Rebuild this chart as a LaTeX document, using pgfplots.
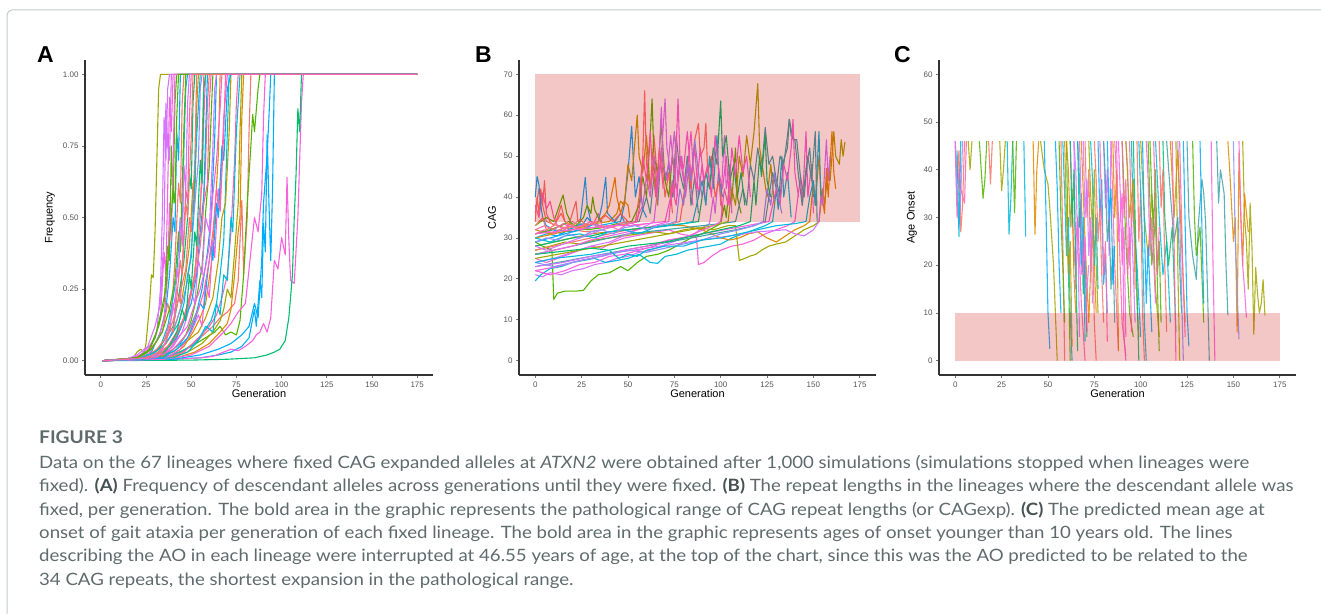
\documentclass[border=0pt]{standalone}
\usepackage{pgfplots}
\pgfplotsset{compat=1.18}
\usepackage{fontspec}
\setmainfont{Liberation Sans}
\newfontfamily\capfont[FakeStretch=1.095]{Lato}
\definecolor{framegray}{HTML}{C3CCCB}
\definecolor{capgray}{HTML}{5E6A6B}
\definecolor{capdark}{HTML}{475253}
\definecolor{tickgray}{HTML}{555555}
\definecolor{bandred}{HTML}{CC0000}
% ggplot hue palette
\definecolor{hr}{HTML}{F8766D}
\definecolor{ho}{HTML}{E18A00}
\definecolor{hy}{HTML}{BE9C00}
\definecolor{hol}{HTML}{A3A500}
\definecolor{hg}{HTML}{53B400}
\definecolor{hgt}{HTML}{00BE70}
\definecolor{ht}{HTML}{3FA3A8}
\definecolor{hc}{HTML}{00BBDA}
\definecolor{hb}{HTML}{00ACFC}
\definecolor{hbl}{HTML}{8B93FF}
\definecolor{hp}{HTML}{D575FE}
\definecolor{hm}{HTML}{F962DD}
\definecolor{hpk}{HTML}{FF65AC}

\pgfplotsset{
  panel/.style={
    scale only axis, height=315pt,
    xmin=-8.75, xmax=183.75,
    axis x line*=bottom, axis y line*=left,
    axis line style={-, line width=1.1pt, black!80},
    tick align=outside, major tick length=3pt,
    tick style={line width=0.8pt, black!55},
    xtick={0,25,...,175},
    tick label style={font=\fontsize{8}{9}\selectfont, color=tickgray},
    /pgf/number format/assume math mode=true,
    xlabel={Generation},
    label style={font=\fontsize{11}{12}\selectfont, color=black},
    xlabel style={at={(axis description cs:0.5,-0.0603)}, anchor=center},
    every axis plot/.append style={line width=1.1pt, line join=round},
  },
}

\begin{document}
\begin{tikzpicture}[x=1pt,y=1pt]
\useasboundingbox (0,0) rectangle (1321,613);
\draw[framegray, line width=1pt, rounded corners=5pt] (7,-20) -- (7,603) -- (1340,603);

% panel letters
\node[anchor=base west, inner sep=0, font=\bfseries\fontsize{23}{25}\selectfont] at (37,550) {A};
\node[anchor=base west, inner sep=0, font=\bfseries\fontsize{23}{25}\selectfont] at (475,550) {B};
\node[anchor=base west, inner sep=0, font=\bfseries\fontsize{23}{25}\selectfont] at (894,550) {C};

% ---------------- A: frequency ----------------
\begin{axis}[panel, at={(85pt,238pt)}, anchor=south west, width=348pt,
  ymin=-0.05, ymax=1.05, ytick={0,0.25,0.5,0.75,1},
  yticklabel style={/pgf/number format/fixed, /pgf/number format/fixed zerofill, /pgf/number format/precision=2},
  ylabel={Frequency}, ylabel style={at={(axis description cs:-0.1006,0.5)}, anchor=center}]
\addplot[hol] coordinates {(1,0)(10,0.002)(18,0.01)(20,0.03)(22,0.04)(24,0.03)(25,0.06)(27,0.2)(28,0.3)(29,0.29)(30,0.45)(31,0.7)(32,0.95)(33,1)(175,1)};
\addplot[hp] coordinates {(1,0)(15,0.005)(22,0.02)(28,0.06)(31,0.1)(33,0.25)(34,0.5)(35,0.85)(36,0.7)(37,0.95)(38,1)(175,1)};
\addplot[hm] coordinates {(1,0)(18,0.01)(25,0.03)(30,0.08)(33,0.15)(35,0.38)(36,0.3)(37,0.6)(38,0.92)(39,0.8)(40,1)(175,1)};
\addplot[hg] coordinates {(1,0)(20,0.01)(27,0.04)(32,0.12)(35,0.2)(37,0.4)(38,0.35)(39,0.75)(40,0.55)(41,0.9)(42,1)(175,1)};
\addplot[hb] coordinates {(1,0)(22,0.01)(28,0.03)(33,0.1)(36,0.18)(38,0.3)(40,0.5)(41,0.45)(42,0.8)(43,0.7)(44,1)(175,1)};
\addplot[hr] coordinates {(1,0)(16,0.005)(24,0.02)(30,0.06)(34,0.1)(37,0.2)(39,0.15)(41,0.35)(43,0.62)(44,0.55)(45,0.9)(46,1)(175,1)};
\addplot[hc] coordinates {(1,0)(20,0.005)(28,0.02)(33,0.05)(37,0.12)(40,0.22)(42,0.3)(44,0.5)(45,0.42)(46,0.75)(47,0.95)(48,1)(175,1)};
\addplot[hpk] coordinates {(1,0)(22,0.01)(30,0.03)(35,0.07)(39,0.15)(42,0.25)(44,0.2)(46,0.45)(47,0.6)(48,0.55)(49,0.85)(50,1)(175,1)};
\addplot[hgt] coordinates {(1,0)(25,0.01)(32,0.04)(37,0.09)(40,0.12)(43,0.22)(46,0.35)(48,0.5)(49,0.65)(50,0.6)(51,0.9)(52,1)(175,1)};
\addplot[hy] coordinates {(1,0)(20,0.005)(30,0.02)(36,0.06)(40,0.1)(44,0.18)(47,0.3)(49,0.4)(51,0.62)(52,0.55)(53,0.88)(54,1)(175,1)};
\addplot[hbl] coordinates {(1,0)(24,0.01)(32,0.03)(38,0.08)(42,0.14)(45,0.2)(48,0.28)(50,0.38)(52,0.55)(54,0.7)(55,0.95)(56,1)(175,1)};
\addplot[hm] coordinates {(1,0)(25,0.005)(33,0.02)(39,0.06)(43,0.1)(47,0.16)(50,0.25)(52,0.3)(54,0.48)(56,0.62)(57,0.85)(58,1)(175,1)};
\addplot[hr] coordinates {(1,0)(27,0.01)(35,0.03)(41,0.07)(45,0.13)(48,0.2)(51,0.26)(54,0.42)(56,0.45)(58,0.7)(59,0.9)(60,1)(175,1)};
\addplot[hg] coordinates {(1,0)(28,0.005)(36,0.02)(42,0.05)(47,0.09)(50,0.14)(53,0.22)(56,0.33)(58,0.52)(60,0.68)(61,0.85)(62,1)(175,1)};
\addplot[hb] coordinates {(1,0)(30,0.01)(38,0.03)(44,0.06)(49,0.11)(53,0.17)(56,0.25)(59,0.38)(61,0.5)(63,0.78)(64,1)(175,1)};
\addplot[ho] coordinates {(1,0)(30,0.005)(40,0.02)(46,0.05)(51,0.1)(55,0.15)(58,0.2)(61,0.33)(63,0.5)(65,0.72)(66,1)(175,1)};
\addplot[hr] coordinates {(1,0)(35,0.01)(45,0.03)(55,0.08)(62,0.12)(66,0.15)(70,0.17)(74,0.2)(76,0.28)(78,0.56)(79,0.3)(81,0.5)(82,0.8)(83,1)(175,1)};
\addplot[hg] coordinates {(1,0)(30,0.005)(40,0.02)(50,0.05)(58,0.08)(63,0.1)(66,0.12)(69,0.09)(72,0.1)(75,0.09)(77,0.14)(79,0.3)(81,0.55)(83,0.75)(84,0.86)(85,0.8)(87,0.95)(88,1)(175,1)};
\addplot[hb] coordinates {(1,0)(40,0.005)(55,0.01)(65,0.02)(72,0.03)(78,0.05)(82,0.08)(85,0.18)(86,0.12)(88,0.28)(89,0.22)(90,0.48)(91,0.38)(92,0.79)(93,0.55)(94,0.35)(95,0.6)(96,1)(175,1)};
\addplot[hm] coordinates {(1,0)(40,0.005)(55,0.01)(62,0.015)(68,0.03)(72,0.04)(76,0.035)(80,0.05)(84,0.07)(86,0.09)(88,0.1)(90,0.13)(92,0.1)(94,0.15)(96,0.35)(98,0.32)(100,0.43)(102,0.37)(103,0.64)(104,0.42)(105,0.28)(107,0.27)(109,0.5)(111,0.9)(112,1)(175,1)};
\addplot[hgt] coordinates {(1,0)(50,0.002)(70,0.005)(85,0.01)(92,0.02)(96,0.03)(99,0.04)(102,0.07)(104,0.15)(106,0.3)(107,0.5)(108,0.65)(109,0.88)(110,0.8)(111,1)(175,1)};
\addplot[hp] coordinates {(1,0)(26,0.005)(34,0.02)(40,0.05)(45,0.1)(48,0.16)(50,0.24)(52,0.2)(54,0.35)(56,0.3)(58,0.5)(60,0.45)(62,0.75)(63,0.95)(64,1)(175,1)};
\addplot[hc] coordinates {(1,0)(34,0.01)(44,0.03)(52,0.06)(57,0.1)(61,0.14)(64,0.2)(66,0.3)(68,0.42)(69,0.6)(70,0.8)(71,1)(175,1)};
\addplot[hpk] coordinates {(1,0)(36,0.01)(46,0.03)(54,0.08)(60,0.12)(64,0.16)(67,0.22)(70,0.3)(72,0.45)(74,0.7)(75,0.9)(76,1)(175,1)};
\addplot[hol] coordinates {(1,0)(38,0.01)(48,0.03)(56,0.06)(62,0.1)(66,0.14)(68,0.18)(70,0.25)(72,0.22)(74,0.38)(76,0.55)(77,0.8)(78,1)(175,1)};
\addplot[hp] coordinates {(1,0)(14,0.005)(20,0.02)(26,0.05)(30,0.12)(33,0.2)(35,0.45)(36,0.9)(37,0.75)(38,0.7)(39,1)(175,1)};
\addplot[hm] coordinates {(1,0)(18,0.005)(26,0.02)(32,0.08)(35,0.15)(37,0.3)(38,0.55)(39,0.42)(40,0.7)(41,1)(175,1)};
\addplot[hg] coordinates {(1,0)(20,0.01)(28,0.04)(34,0.1)(38,0.18)(41,0.28)(43,0.45)(44,0.38)(45,0.6)(46,0.82)(47,1)(175,1)};
\addplot[hr] coordinates {(1,0)(24,0.01)(31,0.04)(36,0.08)(40,0.14)(44,0.24)(47,0.32)(49,0.5)(50,0.45)(52,0.7)(53,1)(175,1)};
\addplot[hb] coordinates {(1,0)(28,0.01)(36,0.04)(42,0.08)(46,0.14)(50,0.2)(53,0.3)(55,0.45)(57,0.58)(58,0.8)(59,1)(175,1)};
\addplot[hm] coordinates {(1,0)(30,0.01)(38,0.04)(44,0.09)(48,0.12)(52,0.2)(55,0.25)(58,0.33)(60,0.4)(62,0.58)(64,0.7)(66,0.88)(67,1)(175,1)};
\addplot[hy] coordinates {(1,0)(32,0.01)(40,0.03)(48,0.07)(54,0.1)(58,0.15)(62,0.22)(65,0.35)(67,0.5)(69,0.55)(71,0.8)(72,1)(175,1)};
\addplot[hc] coordinates {(1,0)(20,0.005)(30,0.03)(36,0.06)(40,0.1)(43,0.13)(46,0.2)(48,0.3)(50,0.36)(51,0.5)(53,0.78)(55,1)(175,1)};
\addplot[hpk] coordinates {(1,0)(22,0.005)(30,0.02)(37,0.05)(42,0.1)(46,0.15)(49,0.22)(52,0.28)(55,0.4)(57,0.55)(59,0.62)(60,0.9)(61,1)(175,1)};
\addplot[ho] coordinates {(1,0)(42,0.01)(52,0.03)(60,0.06)(66,0.1)(70,0.13)(72,0.18)(74,0.3)(76,0.45)(77,0.5)(78,0.85)(79,1)(175,1)};
\addplot[hb] coordinates {(1,0)(40,0.005)(55,0.02)(65,0.04)(72,0.06)(78,0.09)(82,0.12)(85,0.2)(87,0.15)(89,0.35)(90,0.55)(92,0.72)(93,0.85)(94,1)(175,1)};
\addplot[hm] coordinates {(1,0)(35,0.005)(50,0.02)(60,0.05)(68,0.1)(72,0.13)(76,0.17)(80,0.2)(83,0.38)(85,0.5)(87,0.45)(89,0.58)(90,0.85)(91,1)(175,1)};
\addplot[hg] coordinates {(1,0)(20,0.01)(26,0.03)(30,0.08)(33,0.16)(36,0.25)(38,0.42)(40,0.6)(41,0.55)(42,0.85)(43,1)(175,1)};
\addplot[hr] coordinates {(1,0)(26,0.01)(34,0.03)(40,0.07)(44,0.12)(48,0.18)(51,0.26)(53,0.36)(55,0.5)(56,0.74)(57,1)(175,1)};
\addplot[hp] coordinates {(1,0)(28,0.01)(34,0.04)(38,0.1)(40,0.2)(41,0.15)(42,0.32)(43,0.28)(44,0.5)(45,0.4)(46,0.68)(47,0.6)(48,0.9)(49,1)(175,1)};
\addplot[hgt] coordinates {(1,0)(32,0.01)(38,0.05)(42,0.1)(45,0.18)(47,0.14)(49,0.3)(50,0.25)(52,0.45)(53,0.4)(55,0.7)(56,0.62)(57,0.95)(58,1)(175,1)};
\addplot[hm] coordinates {(1,0)(36,0.01)(44,0.04)(50,0.1)(54,0.16)(56,0.12)(58,0.28)(60,0.22)(62,0.42)(63,0.36)(65,0.6)(66,0.55)(68,0.85)(70,1)(175,1)};
\addplot[hc] coordinates {(1,0)(40,0.01)(48,0.03)(54,0.07)(58,0.12)(62,0.1)(64,0.2)(66,0.16)(68,0.3)(70,0.28)(72,0.5)(73,0.45)(75,0.8)(77,1)(175,1)};
\addplot[hr] coordinates {(1,0)(26,0.01)(32,0.03)(36,0.06)(38,0.12)(40,0.1)(42,0.22)(44,0.35)(45,0.3)(47,0.55)(48,0.5)(50,0.78)(51,1)(175,1)};
\addplot[hb] coordinates {(1,0)(34,0.01)(42,0.04)(48,0.08)(52,0.14)(55,0.2)(57,0.18)(59,0.3)(61,0.4)(62,0.35)(64,0.55)(65,0.5)(67,0.75)(68,0.7)(70,0.95)(72,1)(175,1)};
\addplot[hpk] coordinates {(1,0)(30,0.01)(40,0.04)(46,0.08)(50,0.12)(54,0.18)(57,0.24)(60,0.35)(62,0.45)(64,0.6)(66,0.52)(68,0.8)(69,1)(175,1)};
\end{axis}

% ---------------- B: CAG ----------------
\begin{axis}[panel, at={(519pt,238pt)}, anchor=south west, width=357pt,
  ymin=-3.5, ymax=73.5, ytick={0,10,...,70},
  ylabel={CAG}, ylabel style={at={(axis description cs:-0.0756,0.5)}, anchor=center}]
\addplot[hg] coordinates {(0,29)(4,28)(9,27)(10,15)(12,16.5)(16,17)(22,17)(26,17.2)(30,19.5)(34,21)(40,21.5)(46,23)(50,22)(55,24)(60,25.5)(66,26)(72,27)(78,28.5)(84,30)(90,31)(96,32.5)(100,33.5)(102,38)(103,35)(105,45)(106,39)(108,52)(109,40)(111,36)};
\addplot[hp] coordinates {(0,21)(4,20.5)(8,21.5)(14,21)(20,22)(26,22.5)(32,23.5)(38,24)(44,25)(50,25.5)(56,26.5)(62,27)(68,28)(74,29)(80,30)(86,31)(90,32.5)(94,33.5)(96,40)(97,36)(99,47)(100,38)(102,55)(103,42)(105,48)(106,36)};
\addplot[hc] coordinates {(0,19.5)(3,21)(8,22.5)(14,23)(20,24)(26,24.5)(32,25)(38,24)(44,24.5)(50,25)(56,26)(62,24)(66,23.8)(70,25.5)(76,26)(82,27)(88,27.5)(94,28)(100,28.5)(106,30)(112,31)(118,32)(124,33)(128,34)(130,42)(131,37)(133,50)(134,40)(136,46)(138,35)};
\addplot[hm] coordinates {(0,25)(6,24)(12,25)(18,26)(24,27)(30,28)(36,27.5)(42,29)(48,30)(54,30.5)(60,31)(66,31.5)(72,32)(78,31)(84,30.5)(87,30)(88,23.5)(91,24)(95,25.5)(100,27)(106,28)(112,28.5)(118,29.5)(124,31)(130,32)(136,33)(140,34)(143,45)(144,38)(146,56)(147,40)(149,48)(150,36)};
\addplot[hol] coordinates {(0,27)(8,28)(16,29)(24,28.5)(32,29.5)(40,30)(48,30.5)(56,31)(64,31.5)(72,31)(80,32)(88,32.5)(96,32)(104,33)(108,33)(110,24.5)(113,25)(116,25.6)(119,26)(122,27)(126,28)(130,28.5)(135,29)(140,30.5)(145,32)(150,33)(153,34)(155,42)(156,38)(158,47)(159,44)(161,56)(162,50)(164,48)(165,54)(166,50)(167,53.5)};
\addplot[ho] coordinates {(0,28)(10,29)(20,30)(30,31)(40,31.5)(50,32)(60,32.5)(70,33)(80,33)(90,32)(100,30)(105,29.5)(110,30)(115,31)(120,31.5)(125,30)(130,29)(135,30.5)(140,32)(145,33)(148,34)(150,44)(151,38)(153,50)(154,42)(156,36)(157,47)(158,40)(160,56)(161,46)(162,42)};
\addplot[ht] coordinates {(0,26)(10,27)(20,28)(30,29)(40,30)(50,31)(60,31.5)(70,32)(80,32.5)(90,33)(100,33.5)(108,34)(112,42)(114,38)(116,48)(118,44)(120,52)(122,46)(124,57)(126,48)(128,50)(130,44)(132,40)(134,49)(136,52)(137,59)(139,54)(141,54)(143,45)(145,40)(147,50)(149,44)(151,56)(152,34)};
\addplot[ht] coordinates {(0,31)(10,32)(20,31.5)(30,32.5)(40,33)(50,33.5)(56,34)(60,40)(62,36)(64,45)(66,38)(68,52)(70,44)(72,48)(74,40)(76,55)(78,46)(80,42)(82,50)(84,38)(86,45)(88,36)};
\addplot[hb] coordinates {(0,30)(6,31)(12,30.5)(18,32)(24,33)(27,44.8)(28,38)(30,34)(34,33)(40,33.5)(46,34)(48,38)(50,46)(52,57.3)(53,48)(54,40)(56,45)(58,37)(60,35)};
\addplot[hy] coordinates {(0,32)(8,31)(16,32.5)(24,33)(32,33.5)(40,34)(44,36)(46,39)(48,38)(50,48)(52,44)(55,60)(56,50)(58,46)(60,55)(62,42)(64,48)(66,38)};
\addplot[hr] coordinates {(0,36)(2,42)(4,38)(6,34)(12,33)(20,32)(28,31.5)(36,32)(44,33)(50,33.5)(54,34)(56,40)(58,50)(59,66)(60,48)(62,42)(64,55)(66,44)(68,50)(70,40)(72,46)(74,36)};
\addplot[hg] coordinates {(0,33)(6,35)(10,34)(15,40.5)(17,36)(20,33)(28,32)(36,32.5)(44,33.5)(52,34)(56,38)(58,45)(60,40)(62,55)(63,64)(64,50)(66,46)(68,58)(70,44)(72,40)(74,50)(76,42)};
\addplot[hp] coordinates {(0,24)(10,25)(20,26.5)(30,28)(40,29)(50,31)(60,33)(64,34)(66,42)(68,50)(70,64)(71,52)(73,46)(75,56)(77,44)(79,50)(81,40)(83,48)(85,38)};
\addplot[hm] coordinates {(0,26)(10,27)(20,28)(30,29.5)(40,30.5)(50,31.5)(60,32.5)(68,33.5)(72,34)(74,44)(75,40)(77,64)(78,50)(80,47)(82,56)(84,45)(86,52)(88,40)(90,48)(92,38)};
\addplot[hr] coordinates {(0,27)(10,28)(20,29)(30,30)(40,31)(50,32)(60,32.5)(70,33)(78,34)(80,40)(82,48)(84,42)(86,54)(88,58)(89,50)(91,52)(92,58)(93,46)(95,50)(97,40)(99,44)(101,36)};
\addplot[hgt] coordinates {(0,28)(10,29)(20,30)(30,30.5)(40,31.5)(50,32)(60,32.5)(70,33)(80,33.5)(88,34)(90,40)(92,46)(94,42)(96,52)(98,48)(100,63.5)(101,50)(103,55)(105,44)(107,48)(109,40)(111,46)(113,38)};
\addplot[hol] coordinates {(0,25)(12,26)(24,27)(36,28)(48,29)(60,30)(72,31)(84,32)(96,33)(104,34)(106,42)(108,38)(110,50)(112,45)(114,55)(116,48)(118,56)(120,67.7)(121,52)(123,46)(125,40)(127,48)(129,38)};
\addplot[ht] coordinates {(0,23)(12,24)(24,25)(36,26)(48,27)(60,28)(72,29)(84,30)(96,31)(108,32)(118,33)(124,34)(126,40)(128,46)(130,42)(132,50)(134,48)(136,55)(137,59)(138,55)(140,54)(142,45)(144,38)(146,47)(148,52)(150,40)};
\addplot[hm] coordinates {(0,22)(12,23)(24,24.5)(36,25.5)(48,27)(60,28)(72,29.5)(84,30.5)(96,31.5)(108,32.5)(120,33.5)(126,34)(130,42)(132,38)(134,48)(136,44)(138,52)(139,59)(140,46)(142,40)};
\addplot[hp] coordinates {(0,23)(15,24)(30,25.5)(45,26.5)(60,27.5)(75,28.5)(90,29.5)(105,30.5)(120,31.5)(135,32)(140,31)(145,30.5)(150,32)(153,34)(154,40)(155,38)(157,54)(158,44)(159,50)};
\addplot[hr] coordinates {(0,34)(1,40)(2,36)(3,42)(4,38)(5,44)(6,36)(8,34)(10,33)(12,35)(14,38)(16,34)(18,33)(22,39)(23,34)(26,33)(30,34)};
\addplot[hpk] coordinates {(0,38)(2,35)(4,41)(6,37)(8,39)(10,35)(12,33)(16,32)(20,34)(24,33)(28,32.5)(32,34)(34,36)(36,33)};
\addplot[hb] coordinates {(0,40)(1,45)(2,43)(3,38)(4,35)(6,33)(10,32)(14,31)(18,32)(22,33)(26,33.5)(28,35)(30,34)};
\addplot[hb] coordinates {(0,29)(8,30)(16,31)(24,32)(30,33)(34,34)(36,38)(38,44.8)(39,36)(41,35)(43,34)(46,36)(48,34)};
\addplot[ho] coordinates {(0,30)(10,31)(20,32)(28,33)(34,34)(38,36)(40,38)(43,44.8)(44,40)(46,36)(48,39)(50,38)(51,35)};
\addplot[hg] coordinates {(0,31)(8,32)(14,33)(18,34)(22,33)(26,35)(28,38)(30,36)(31,40)(32,37)(34,35)(36,34)};
\addplot[hpk] coordinates {(0,32)(5,33)(10,32)(15,33.5)(20,32.5)(25,33)(30,34)(35,33)(40,32.5)(45,33.5)(50,34)(55,33)(60,33.5)};
\addplot[hc] coordinates {(0,30)(8,29)(16,30.5)(24,31)(32,30)(40,31.5)(48,32)(56,31)(64,32.5)(72,33)(80,33.5)(85,34)(88,40)(90,44)(92,38)(94,50)(96,42)(98,55)(99,45)(101,40)};
\addplot[hr] coordinates {(0,33)(4,35)(6,32)(10,33)(14,36)(16,34)(20,33)(24,34.5)(28,33)(34,34)(38,35.5)(42,34)(46,36)(50,34)};
\addplot[hp] coordinates {(0,28)(6,27)(12,28)(18,29)(24,30)(30,31)(36,32)(42,33)(48,33)(54,34)(58,38)(60,45)(62,40)(64,50)(66,42)(68,62)(69,48)(71,44)(73,55)(75,46)(77,40)};
\addplot[hbl] coordinates {(0,24)(10,23)(20,24)(30,25)(40,26)(50,27)(60,26.5)(70,27.5)(80,28.5)(90,29.5)(100,31)(110,32)(118,33)(123,34)(125,42)(127,38)(129,46)(131,40)(133,36)};
\addplot[hm] coordinates {(0,22)(8,21)(16,22)(24,23.5)(32,24)(40,25.5)(48,26)(56,27)(64,28)(72,29.5)(80,30)(88,31.5)(96,33)(100,34)(102,42)(104,38)(106,52)(108,45)(110,55)(112,46)(114,50)(116,40)};
\addplot[hgt] coordinates {(0,26)(10,26.5)(20,27)(30,27.5)(40,27)(50,28)(60,28.5)(70,29)(80,30)(90,31)(100,32)(110,33)(116,34)(118,44)(119,38)(121,50)(122,45)(124,55)(125,44)(127,40)};
\addplot[hc] coordinates {(0,24)(10,25)(20,25.5)(30,26)(40,27)(45,25)(50,26)(55,25.5)(60,27)(70,28)(80,28)(90,29.5)(100,30)(110,31)(120,32)(130,33)(140,33.5)(146,34)(148,40)(150,44)(151,38)(153,56)(154,40)};
\addplot[hm] coordinates {(0,31)(10,31.5)(20,32)(30,32.5)(40,33)(50,33)(60,33.5)(70,34)(72,38)(74,42)(76,38)(78,50)(80,44)(82,46)(84,56)(85,48)(87,42)(89,52)(91,44)(93,48)(95,40)(97,55)(99,46)(101,42)(103,50)(105,38)};
\addplot[hpk] coordinates {(0,31)(5,32)(10,31)(15,32.5)(20,33)(25,32)(30,33.5)(35,32.5)(40,33)(45,32)(50,33.5)(55,34)(57,40)(58,50)(60,44)(62,56)(63,48)(65,40)(67,52)(69,42)};
\addplot[hbl] coordinates {(0,29)(6,30)(12,29.5)(18,31)(24,30)(30,31.5)(36,32)(42,31)(48,32.5)(54,33)(60,32)(66,33)(72,33.5)(76,34)(78,42)(80,38)(82,48)(84,44)(86,54)(88,46)(90,40)};
% pathological range
\addplot[draw=none, fill=bandred, fill opacity=0.22] coordinates {(0,34)(175,34)(175,70)(0,70)} -- cycle;
\end{axis}

% ---------------- C: age at onset ----------------
\begin{axis}[panel, at={(939pt,238pt)}, anchor=south west, width=357pt,
  ymin=-3, ymax=63, ytick={0,10,...,60}, unbounded coords=jump,
  every axis plot/.append style={opacity=0.85},
  ylabel={Age Onset}, ylabel style={at={(axis description cs:-0.0756,0.5)}, anchor=center}]
\addplot[hr] coordinates {(0,46)(1,38)(2,44)(3,27)(4,33)(5,46)(6,nan)(18,46)(19,37)(20,46)(21,nan)(57,46)(58,25)(59,0)};
\addplot[hpk] coordinates {(0,45)(1,30)(2,40)(3,36)(5,33)(6,46)(7,nan)(84,46)(86,20)(88,2)};
\addplot[hp] coordinates {(0,46)(1,33)(2,28)(3,35)(4,46)(5,nan)(64,46)(65,15)(66,30)(67,5)};
\addplot[hc] coordinates {(1,44)(2,26)(3,46)(4,nan)(28,46)(29,26.5)(30,34)(31,46)(32,nan)(37,46)(38,26)};
\addplot[hol] coordinates {(7,46)(8,40)(9,46)(10,nan)(24,46)(25,35.6)(26,40)(27,46)(28,nan)(46,46)(48,40)(50,37)(51,32)(53,20)(55,0)};
\addplot[hg] coordinates {(13,46)(14,40)(15,34)(16,38)(17,46)(18,nan)(31,46)(32,31)(33,46)(34,nan)(60,46)(61,20)(62,0)};
\addplot[ho] coordinates {(42,46)(43,26.5)(44,40)(45,46)(46,nan)(68,46)(70,25)(72,8)(74,30)(76,10)};
\addplot[hb] coordinates {(48,46)(49,30)(50,10)(51,2.5)(52,nan)(95,46)(96,30)(98,20)(100,5)};
\addplot[hol] coordinates {(155,46)(156,30)(157,25)(158,15)(159,33)(160,24)(161,5.5)(162,19.5)(163,14)(164,10)(165,12)(166,17)(167,9.5)};
\addplot[ht] coordinates {(125,46)(126,30)(128,22)(130,17)(131,28)(133,38)(134,35)(135,29)(136,15)(137,0)(138,nan)(141,46)(142,33)(143,40)(145,35)(146,20)(147,9.5)};
\addplot[ho] coordinates {(147,46)(148,40)(150,25)(151,30)(152,6)(153,43.5)(154,30)(155,20)(156,35)(158,27)};
\addplot[hm] coordinates {(138,46)(139,20)(140,0)(141,nan)(153,46)(154,30)(155,20)(156,15)(157,9)};
\addplot[hbl] coordinates {(120,46)(121,30)(122,15)(123,0)(124,nan)(150,46)(151,25)(153,4.5)};
\addplot[hg] coordinates {(56,46)(57,30)(58,20)(59,8)(60,nan)(90,46)(92,25)(94,10)(96,5)(97,nan)(104,46)(106,20)(108,30)(110,2)};
\addplot[hpk] coordinates {(62,46)(63,35)(64,20)(66,30)(68,12)(70,0)(71,nan)(86,46)(88,30)(90,8)(92,1)};
\addplot[hp] coordinates {(64,46)(65,40)(66,25)(67,32)(68,18)(69,28)(70,10)(72,20)(73,nan)(80,46)(81,32)(82,40)(83,22)(84,46)};
\addplot[hc] coordinates {(58,46)(59,35)(60,22)(61,30)(62,10)(63,0)(64,nan)(73,46)(74,38)(75,20)(76,30)(77,15)(78,nan)(108,46)(110,30)(112,18)(114,25)(116,8)};
\addplot[hr] coordinates {(70,46)(71,30)(72,40)(73,20)(74,28)(75,8)(76,0)(77,nan)(98,46)(99,25)(100,36)(101,10)(102,0)};
\addplot[hol] coordinates {(72,46)(73,35)(74,28)(75,40)(76,20)(77,10)(78,nan)(100,46)(102,30)(104,22)(106,35)(108,15)(110,5)(111,nan)(119,46)(120,20)(121,0)};
\addplot[hgt] coordinates {(66,46)(67,28)(68,35)(69,14)(70,22)(71,5)(72,nan)(112,46)(113,30)(115,20)(117,28)(119,6)};
\addplot[hb] coordinates {(77,46)(78,30)(79,38)(80,16)(81,22)(82,10)(83,nan)(101,46)(102,28)(103,12)(104,24)(106,6)(107,nan)(123,46)(124,28)(125,10)(126,3)};
\addplot[hm] coordinates {(88,46)(89,35)(90,20)(91,28)(92,5)(93,nan)(103,46)(104,38)(105,22)(106,30)(108,12)};
\addplot[ht] coordinates {(80,46)(81,38)(82,25)(83,30)(84,15)(85,24)(86,8)(87,nan)(114,46)(116,35)(118,25)(120,30)(122,10)};
\addplot[ho] coordinates {(60,46)(61,40)(62,28)(63,36)(64,18)(65,10)(66,nan)(85,46)(86,30)(87,40)(88,2)(89,nan)(116,46)(117,38)(118,30)(120,44)(122,25)(124,8)};
\addplot[hp] coordinates {(69,46)(70,30)(71,38)(72,22)(73,30)(74,12)(75,nan)(92,46)(93,40)(94,20)(95,30)(97,8)};
\addplot[hg] coordinates {(105,46)(106,35)(107,28)(108,40)(109,18)(110,25)(111,8)(112,nan)(128,46)(129,30)(130,22)(132,28)(134,8)};
\addplot[hr] coordinates {(75,46)(76,38)(77,25)(78,32)(79,18)(80,8)(81,nan)(94,46)(95,28)(96,35)(97,15)(98,nan)(110,46)(111,32)(112,40)(113,20)(114,6)};
\addplot[hpk] coordinates {(90,46)(91,30)(92,38)(93,18)(94,28)(95,6)(96,nan)(117,46)(118,25)(119,0)};
\addplot[hc] coordinates {(66,46)(67,38)(68,20)(69,30)(70,4)(71,nan)(99,46)(100,35)(101,25)(102,8)(103,0)};
\addplot[hb] coordinates {(54,46)(55,36)(56,20)(57,10)(58,nan)(82,46)(83,30)(84,36)(85,16)(86,24)(87,nan)(132,46)(133,28)(134,12)};
\addplot[hy] coordinates {(59,46)(60,30)(61,18)(62,25)(63,3)(64,nan)(92,46)(94,30)(96,38)(98,12)(99,5)};
\addplot[hgt] coordinates {(62,46)(63,28)(64,40)(65,20)(66,2)(67,nan)(96,46)(97,30)(98,15)(99,0)};
\addplot[hpk] coordinates {(78,46)(79,30)(80,18)(81,25)(82,4)(83,nan)(107,46)(108,30)(109,18)(110,28)(111,nan)(121,46)(122,30)(123,15)(124,5)};
\addplot[hm] coordinates {(67,46)(68,32)(69,18)(70,26)(71,6)(72,nan)(87,46)(88,25)(90,35)(91,5)(92,0)};
% onset younger than 10
\addplot[draw=none, fill=bandred, fill opacity=0.22] coordinates {(0,0)(175,0)(175,10)(0,10)} -- cycle;
\end{axis}

% ---------------- caption ----------------
\begin{scope}[every node/.style={anchor=base west, inner sep=0, text=capgray, font=\capfont\fontsize{17}{20}\selectfont}]
\node[font=\capfont\bfseries\fontsize{17.5}{20}\selectfont] at (39,169.7) {FIGURE 3};
\node at (39,144.7) {Data on the 67 lineages where fixed CAG expanded alleles at \textit{ATXN2} were obtained after 1,000 simulations (simulations stopped when lineages were};
\node at (39,121.3) {fixed). \textcolor{capdark}{\textbf{(A)}} Frequency of descendant alleles across generations until they were fixed. \textcolor{capdark}{\textbf{(B)}} The repeat lengths in the lineages where the descendant allele was};
\node at (39,98) {fixed, per generation. The bold area in the graphic represents the pathological range of CAG repeat lengths (or CAGexp). \textcolor{capdark}{\textbf{(C)}} The predicted mean age at};
\node at (39,74.7) {onset of gait ataxia per generation of each fixed lineage. The bold area in the graphic represents ages of onset younger than 10 years old. The lines};
\node at (39,51.3) {describing the AO in each lineage were interrupted at 46.55 years of age, at the top of the chart, since this was the AO predicted to be related to the};
\node at (39,27.3) {34 CAG repeats, the shortest expansion in the pathological range.};
\end{scope}
\end{tikzpicture}
\end{document}
